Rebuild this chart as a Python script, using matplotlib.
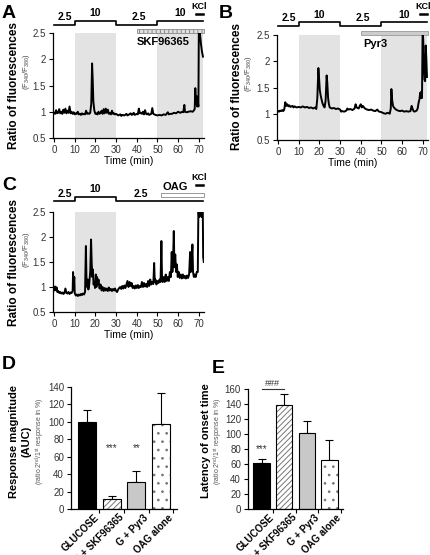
import matplotlib
matplotlib.use("Agg")
import matplotlib.pyplot as plt
import matplotlib.transforms as mtransforms
from matplotlib.patches import Rectangle

plt.rcParams['font.family'] = 'Liberation Sans'
plt.rcParams['mathtext.default'] = 'regular'
plt.rcParams['hatch.linewidth'] = 0.7

# ---- calcium traces (time in min, F340/F380 ratio) ----
time_a = [0, 0.5, 1, 1.5, 2, 2.5, 3, 3.5, 4, 4.5, 5, 5.5, 6, 6.5, 7, 7.5, 8, 8.5, 9, 9.5,
          10, 10.5, 11, 11.5, 12, 12.5, 13, 13.5, 14, 14.5, 15, 15.5, 16, 16.5, 17, 17.5,
          18, 18.4, 18.7, 19, 19.5, 20, 20.5, 21, 21.5, 22, 22.5, 23, 23.5, 24, 24.5, 25,
          25.5, 26, 26.5, 27, 27.5, 28, 28.5, 29, 29.5, 30, 31, 32, 32.5, 33, 34, 35, 35.5,
          36, 37, 37.5, 38, 38.5, 39, 40, 40.5, 41, 41.5, 42, 42.5, 43, 43.5, 44, 44.5, 45,
          45.5, 46, 47, 47.5, 48, 48.5, 49, 50, 51, 52, 53, 54, 55, 55.5, 56, 57, 58, 59,
          60, 61, 62, 62.5, 63, 63.3, 64, 65, 66, 67, 67.5, 68, 68.3, 68.6, 68.9, 69.2,
          69.5, 69.8, 70, 70.4, 71, 71.5, 72]
ratio_a = [0.98, 0.96, 1.03, 0.97, 0.98, 1.05, 0.97, 1.0, 0.96, 1.04, 0.98, 1.06, 0.97, 1.02,
           0.98, 1.1, 0.97, 1.0, 0.96, 0.99, 0.95, 0.97, 0.96, 1.0, 0.95, 0.96, 0.94, 0.97,
           0.95, 0.96, 0.95, 1.02, 0.96, 0.97, 0.96, 0.98, 1.15, 1.92, 1.6, 1.2, 1.02, 0.96,
           0.97, 0.95, 1.0, 0.96, 0.98, 1.02, 0.96, 1.05, 0.97, 1.06, 0.98, 1.04, 0.96, 0.98,
           0.95, 1.02, 0.96, 0.97, 0.95, 0.96, 0.93, 0.95, 0.92, 0.94, 0.93, 0.96, 0.93, 0.94,
           0.97, 0.94, 0.95, 0.98, 0.94, 0.96, 0.95, 1.06, 0.97, 0.98, 0.96, 1.0, 0.95, 1.03,
           0.96, 0.95, 0.97, 0.94, 0.96, 1.07, 0.96, 0.95, 0.94, 0.93, 0.94, 0.93, 0.95, 0.94,
           0.99, 0.95, 0.96, 0.96, 0.98, 0.97, 1.0, 0.98, 1.0, 0.99, 1.13, 1.0, 0.99, 1.0,
           1.01, 1.0, 1.02, 1.05, 1.45, 1.15, 1.3, 1.1, 1.2, 1.1, 2.6, 2.55, 2.3, 2.15, 2.05]

time_b = [0, 0.5, 1, 1.5, 2, 2.5, 3, 3.5, 4, 4.5, 5, 5.5, 6, 7, 7.5, 8, 9, 10, 11, 12, 13,
          14, 15, 16, 17, 18, 18.5, 19, 19.5, 19.8, 20.2, 20.6, 21, 21.5, 22, 22.5, 23, 23.5,
          23.8, 24.2, 24.6, 25, 26, 27, 28, 29, 30, 30.5, 31, 32, 33, 33.5, 34, 35, 36, 37,
          37.5, 38, 39, 39.5, 40, 40.5, 41, 42, 43, 44, 45, 46, 47, 48, 48.5, 49, 50, 51, 52,
          53, 54, 54.5, 54.8, 55.2, 55.6, 56, 57, 58, 59, 60, 61, 62, 63, 64, 64.6, 65, 65.5,
          66, 67, 67.5, 68, 68.4, 68.7, 69, 69.3, 69.6, 69.9, 70.2, 70.5, 70.8, 71.1, 71.4,
          71.7, 72]
ratio_b = [1.05, 1.04, 1.06, 1.05, 1.07, 1.05, 1.08, 1.22, 1.15, 1.18, 1.14, 1.16, 1.13, 1.15,
           1.12, 1.14, 1.12, 1.13, 1.12, 1.14, 1.12, 1.13, 1.11, 1.12, 1.10, 1.12, 1.09, 1.3,
           1.87, 1.7, 1.45, 1.35, 1.28, 1.2, 1.15, 1.12, 1.25, 1.73, 1.6, 1.3, 1.18, 1.12, 1.1,
           1.11, 1.09, 1.1, 1.08, 1.04, 1.05, 1.04, 1.06, 1.1, 1.08, 1.09, 1.07, 1.1, 1.18,
           1.12, 1.1, 1.15, 1.18, 1.12, 1.15, 1.1, 1.08, 1.07, 1.08, 1.06, 1.05, 1.08, 1.05,
           1.04, 1.03, 1.01, 1.0, 1.02, 1.0, 1.1, 1.47, 1.25, 1.15, 1.12, 1.08, 1.06, 1.05,
           1.06, 1.04, 1.05, 1.04, 1.05, 1.15, 1.1, 1.05, 1.04, 1.06, 1.1, 1.22, 1.28, 1.4,
           1.3, 1.42, 1.3, 2.6, 2.4, 1.9, 1.65, 1.62, 2.3, 2.05, 1.7]

time_c = [0, 0.3, 0.6, 1, 1.3, 1.6, 2, 2.5, 3, 3.5, 4, 4.5, 5, 5.5, 6, 6.5, 7, 7.5, 8, 8.5,
          9, 9.2, 9.5, 9.8, 10, 10.5, 11, 11.5, 12, 12.5, 13, 13.5, 14, 14.5, 15, 15.4, 15.7,
          16, 16.3, 16.6, 17, 17.5, 17.9, 18.2, 18.5, 18.8, 19.1, 19.5, 19.8, 20.2, 20.5,
          20.8, 21.1, 21.5, 22, 22.5, 23, 23.5, 24, 24.5, 25, 25.5, 26, 26.5, 27, 27.5, 28,
          28.5, 29, 29.5, 30, 30.5, 31, 31.5, 32, 32.5, 33, 33.5, 34, 34.5, 35, 35.5, 36,
          36.5, 37, 37.5, 38, 38.5, 39, 39.5, 40, 40.5, 41, 41.5, 42, 42.5, 43, 43.5, 44,
          44.5, 45, 45.5, 46, 46.5, 47, 47.5, 48, 48.4, 48.7, 49, 49.5, 50, 50.5, 51, 51.5,
          51.9, 52.2, 52.5, 53, 53.5, 54, 54.5, 55, 55.5, 56, 56.5, 56.9, 57.2, 57.5, 57.9,
          58.2, 58.6, 59, 59.4, 59.8, 60.3, 60.8, 61.3, 61.8, 62.3, 62.8, 63.3, 63.8, 64.3,
          64.8, 65.3, 65.8, 66.1, 66.5, 66.9, 67.2, 67.6, 68, 68.5, 69, 69.5, 69.8, 70.1,
          70.4, 70.7, 71, 71.3, 71.6, 71.9, 72.1, 72.4]
ratio_c = [1.0, 0.93, 1.01, 0.95, 0.99, 0.9, 0.92, 0.88, 0.9, 0.87, 0.89, 0.86, 0.88, 0.97,
           0.88, 0.87, 0.9, 0.86, 0.89, 0.88, 0.92, 1.3, 1.05, 1.2, 0.88, 0.83, 0.85, 0.82,
           0.85, 0.83, 0.86, 0.84, 0.87, 0.85, 0.9, 1.82, 1.1, 1.0, 1.15, 0.95, 1.05, 1.3,
           1.95, 1.5, 1.2, 1.35, 1.05, 1.1, 0.98, 1.25, 1.0, 1.2, 1.05, 1.15, 0.97, 1.05,
           0.93, 1.0, 0.92, 0.98, 0.93, 0.97, 0.92, 0.99, 0.93, 0.96, 0.92, 0.96, 0.93, 0.97,
           0.92, 0.9, 0.95, 0.98, 1.0, 0.96, 1.02, 0.97, 1.03, 0.98, 1.05, 1.12, 1.0, 1.1,
           1.02, 1.08, 0.98, 1.02, 0.97, 1.03, 0.98, 1.04, 0.98, 1.02, 1.0, 1.1, 1.0, 1.08,
           1.01, 1.06, 1.0, 1.12, 1.02, 1.15, 1.05, 1.1, 1.06, 1.48, 1.1, 1.15, 1.05, 1.12,
           1.08, 1.15, 1.1, 1.92, 1.2, 1.1, 1.2, 1.1, 1.25, 1.12, 1.2, 1.12, 1.3, 1.2, 1.7,
           1.3, 1.45, 2.12, 1.4, 1.65, 1.3, 1.45, 1.2, 1.3, 1.18, 1.25, 1.17, 1.25, 1.18,
           1.22, 1.17, 1.23, 1.18, 1.25, 1.7, 1.3, 1.5, 1.85, 1.3, 1.2, 1.25, 1.2, 1.3, 1.3,
           2.6, 2.4, 2.6, 2.45, 2.6, 2.4, 2.6, 2.6, 1.6, 1.5]

# glucose protocol (mM) per period
gluc_edges_ab = [0, 10, 30, 50, 72]
gluc_ab = [2.5, 10, 2.5, 10]
gluc_edges_c = [0, 10, 30, 72]
gluc_c = [2.5, 10, 2.5]

# ---- summary bars ----
groups = ['GLUCOSE', 'G + SKF96365', 'G + Pyr3', 'OAG alone']
auc_mean = [100, 11, 31, 98]
auc_err = [14, 4, 13, 35]
lat_mean = [62, 139, 102, 65]
lat_err = [5, 15, 16, 27]

W, H = 430, 555
fig = plt.figure(figsize=(W / 100, H / 100), dpi=100)


def box(l, t, r, b):
    return [l / W, 1 - b / H, (r - l) / W, (b - t) / H]


def style_axes(ax):
    for s in ['top', 'right']:
        ax.spines[s].set_visible(False)
    for s in ['left', 'bottom']:
        ax.spines[s].set_linewidth(0.9)
    ax.tick_params(direction='out', length=3, width=0.8, labelsize=7, labelcolor='#333333', pad=2)


def trace_panel(ax, t, r, edges, gluc, lab_x, low, high, kcl_y):
    tr = ax.get_xaxis_transform()
    xs, ys = [], []
    for i, g in enumerate(gluc):
        lvl = high if g == 10 else low
        xs += [edges[i], edges[i + 1]]
        ys += [lvl, lvl]
        if g == 10:
            ax.axvspan(edges[i], edges[i + 1], color='#e3e3e3', lw=0, zorder=0)
        ax.text(lab_x[i], lvl + 0.025, f'{g:g}', transform=tr, ha='center', va='bottom',
                fontsize=7.5, fontweight='bold')
    ax.plot(xs, ys, transform=tr, clip_on=False, color='k', lw=1.2)
    ax.plot([68.5, 72], [kcl_y, kcl_y], transform=tr, clip_on=False, color='k', lw=1.8)
    ax.text(70, kcl_y + 0.035, 'KCl', transform=tr, ha='center', va='bottom',
            fontsize=6.5, fontweight='bold')
    ax.plot(t, r, color='k', lw=1.4, zorder=3)
    ax.set_xlim(-0.5, 72.5)
    ax.set_ylim(0.5, 2.5)
    ax.set_xticks(range(0, 71, 10))
    ax.set_yticks([0.5, 1, 1.5, 2, 2.5])
    ax.set_yticklabels(['0.5', '1', '1.5', '2', '2.5'])
    ax.set_xlabel('Time (min)', fontsize=7.5, labelpad=1)
    style_axes(ax)


# panel A
axA = fig.add_axes(box(53, 33, 204, 138))
trace_panel(axA, time_a, ratio_a, gluc_edges_ab, gluc_ab, [5, 20, 41, 61], 1.076, 1.114, 1.178)
trA = axA.get_xaxis_transform()
axA.add_patch(Rectangle((40, 1.0), 32.5, 0.035, transform=trA, clip_on=False,
                        facecolor='#e0e0e0', edgecolor='#888888', hatch='||||', lw=0.6))
axA.text(53, 0.915, 'SKF96365', transform=trA, ha='center', va='center',
         fontsize=8, fontweight='bold')

# panel B
axB = fig.add_axes(box(277, 35, 428, 140))
trace_panel(axB, time_b, ratio_b, gluc_edges_ab, gluc_ab, [5, 20, 41, 61], 1.086, 1.12, 1.197)
trB = axB.get_xaxis_transform()
axB.add_patch(Rectangle((40, 1.0), 32.5, 0.035, transform=trB, clip_on=False,
                        facecolor='#cccccc', edgecolor='#999999', lw=0.6))
axB.text(47, 0.915, 'Pyr3', transform=trB, ha='center', va='center',
         fontsize=8, fontweight='bold')

# panel C
axC = fig.add_axes(box(53, 212, 204, 312))
trace_panel(axC, time_c, ratio_c, gluc_edges_c, gluc_c, [5, 20, 42], 1.11, 1.153, 1.27)
trC = axC.get_xaxis_transform()
axC.add_patch(Rectangle((51.8, 1.155), 20.7, 0.035, transform=trC, clip_on=False,
                        facecolor='white', edgecolor='#888888', hatch='..', lw=0.6))
axC.text(58.5, 1.2, 'OAG', transform=trC, ha='center', va='bottom',
         fontsize=8, fontweight='bold')

for xl, xs_, yc, ysub in [(14, 26, 85.5, 72), (14, 26, 262, 250), (237, 249, 87, 74)]:
    fig.text(xl / W, 1 - yc / H, 'Ratio of fluorescences', rotation=90, ha='center',
             va='center', fontsize=8.5, fontweight='bold')
    fig.text(xs_ / W, 1 - ysub / H, '(F$_{340}$/F$_{380}$)', rotation=90, ha='center',
             va='center', fontsize=5.5, color='#444444')


def bar_panel(ax, mean, err, ymax, xlim):
    x = list(range(len(groups)))
    colors = ['black', 'white', '#c8c8c8', 'white']
    hatches = [None, '//////', None, '..']
    for i in x:
        ax.bar(x[i], mean[i], width=0.72, color=colors[i], edgecolor='#777777',
               hatch=hatches[i], lw=0, zorder=2)
        ax.bar(x[i], mean[i], width=0.72, fill=False, edgecolor='black', lw=0.8, zorder=3)
    ax.errorbar(x, mean, yerr=[[0] * len(x), err], fmt='none', ecolor='black',
                elinewidth=0.8, capsize=3, capthick=0.8, zorder=1)
    ax.set_xlim(*xlim)
    ax.set_ylim(0, ymax)
    ax.set_yticks(range(0, ymax + 1, 20))
    ax.set_xticks(x)
    ax.set_xticks([0.5, 1.5, 2.5, 3.5], minor=True)
    style_axes(ax)
    ax.tick_params(axis='x', which='major', length=0)
    ax.tick_params(axis='x', which='minor', direction='out', length=3, width=0.8)
    off = mtransforms.ScaledTranslation(5 / 72, -0.5 / 72, fig.dpi_scale_trans)
    ax.set_xticklabels(groups, rotation=45, ha='right', rotation_mode='anchor',
                       fontsize=7, fontweight='bold', color='black')
    for lab in ax.get_xticklabels():
        lab.set_transform(lab.get_transform() + off)


axD = fig.add_axes(box(71, 387, 177, 509))
bar_panel(axD, auc_mean, auc_err, 140, (-0.65, 3.65))
axD.text(1, 64, '***', ha='center', va='bottom', fontsize=7, color='#333333')
axD.text(2, 64, '**', ha='center', va='bottom', fontsize=7, color='#333333')
fig.text(14 / W, 1 - 441 / H, 'Response magnitude', rotation=90, ha='center', va='center',
         fontsize=8, fontweight='bold')
fig.text(26 / W, 1 - 441 / H, '(AUC)', rotation=90, ha='center', va='center',
         fontsize=8, fontweight='bold')
fig.text(40 / W, 1 - 441 / H, '(ratio 2$^{nd}$/1$^{st}$ response in %)', rotation=90,
         ha='center', va='center', fontsize=5, color='#555555')

axE = fig.add_axes(box(248, 389, 343, 509))
bar_panel(axE, lat_mean, lat_err, 160, (-0.6, 3.6))
axE.text(0, 73, '***', ha='center', va='bottom', fontsize=7, color='#333333')
axE.plot([0, 1], [160, 160], color='#333333', lw=0.8, clip_on=False)
axE.text(0.5, 161, '###', ha='center', va='bottom', fontsize=6.5, color='#333333')
fig.text(206 / W, 1 - 441 / H, 'Latency of onset time', rotation=90, ha='center',
         va='center', fontsize=8, fontweight='bold')
fig.text(218 / W, 1 - 441 / H, '(ratio 2$^{nd}$/1$^{st}$ response in %)', rotation=90,
         ha='center', va='center', fontsize=5, color='#555555')

for lab, x, y in [('A', 2, 5), ('B', 219, 5), ('C', 2, 177), ('D', 2, 356), ('E', 212, 360)]:
    fig.text(x / W, 1 - y / H, lab, ha='left', va='top', fontsize=14, fontweight='bold')

fig.savefig('out.png', dpi=100)
